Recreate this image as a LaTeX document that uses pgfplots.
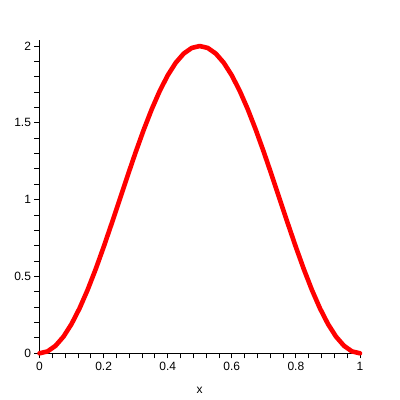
\documentclass[border=0pt]{standalone}
\usepackage{pgfplots}
\pgfplotsset{compat=1.18}
\usepackage{fontspec}
\setmainfont{Liberation Sans}
\begin{document}
\begin{tikzpicture}[x=1pt,y=1pt]
\useasboundingbox (0,0) rectangle (400,400);
\begin{axis}[
  at={(39.5pt,46.7pt)}, anchor=origin,
  scale only axis,
  width=320.5pt, height=313.4pt,
  xmin=0, xmax=1, ymin=0, ymax=2.04,
  axis lines*=left,
  axis line style={black, line width=0.9pt},
  xtick={0,0.2,0.4,0.6,0.8,1},
  xticklabels={0,0.2,0.4,0.6,0.8,1},
  ytick={0,0.5,1,1.5,2},
  yticklabels={0,0.5,1,1.5,2},
  minor x tick num=4, minor y tick num=4,
  tick align=outside,
  major tick length=5pt, minor tick length=5pt,
  tick style={black, line width=0.9pt},
  ticklabel style={font=\fontsize{12}{14}\selectfont},
  xlabel={x},
  xlabel style={font=\fontsize{12}{14}\selectfont, at={(axis description cs:0.5,0)}, anchor=center, yshift=-37pt},
  clip=false,
]
\addplot[red, line width=4.6pt, line join=round, line cap=round] coordinates {
(0,0) (0.025,0.01231) (0.05,0.04894) (0.075,0.10899) (0.1,0.19098)
(0.125,0.29289) (0.15,0.41221) (0.175,0.54601) (0.2,0.69098) (0.225,0.84357)
(0.25,1) (0.275,1.15643) (0.3,1.30902) (0.325,1.45399) (0.35,1.58779)
(0.375,1.70711) (0.4,1.80902) (0.425,1.89101) (0.45,1.95106) (0.475,1.98769)
(0.5,2)
(0.525,1.98769) (0.55,1.95106) (0.575,1.89101) (0.6,1.80902) (0.625,1.70711)
(0.65,1.58779) (0.675,1.45399) (0.7,1.30902) (0.725,1.15643) (0.75,1)
(0.775,0.84357) (0.8,0.69098) (0.825,0.54601) (0.85,0.41221) (0.875,0.29289)
(0.9,0.19098) (0.925,0.10899) (0.95,0.04894) (0.975,0.01231) (1,0)
};
\end{axis}
\end{tikzpicture}
\end{document}
